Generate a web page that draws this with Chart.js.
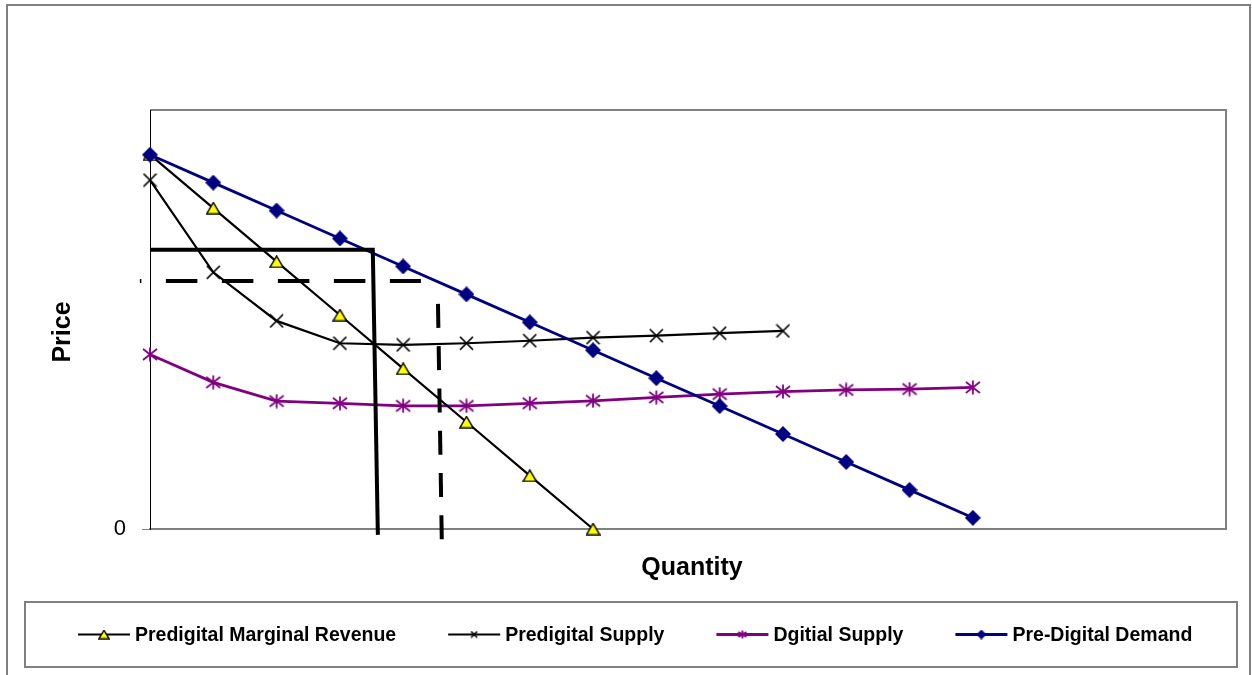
<!DOCTYPE html>
<html>
<head>
<meta charset="utf-8">
<script src="https://cdn.jsdelivr.net/npm/chart.js@4.4.1/dist/chart.umd.min.js"></script>
<style>
  html, body { margin: 0; padding: 0; background: #fff; }
  canvas { display: block; }
</style>
</head>
<body>
<canvas id="chart" width="1252" height="675"></canvas>
<script>
// values (price units, 0..15 on the axis)
const quantities = [0, 1, 2, 3, 4, 5, 6, 7, 8, 9, 10, 11, 12, 13];
const predigitalMarginalRevenue = [13.4, 11.49, 9.57, 7.66, 5.74, 3.83, 1.91, 0];
const predigitalSupply = [12.49, 9.19, 7.45, 6.65, 6.59, 6.65, 6.74, 6.85, 6.92, 7.01, 7.09];
const digitalSupply = [6.25, 5.25, 4.58, 4.5, 4.41, 4.41, 4.5, 4.59, 4.71, 4.83, 4.92, 4.98, 5.01, 5.07];
const predigitalDemand = [13.4, 12.4, 11.4, 10.4, 9.4, 8.4, 7.4, 6.4, 5.4, 4.4, 3.4, 2.4, 1.4, 0.4];
const seriesLabels = ['Predigital Marginal Revenue', 'Predigital Supply', 'Dgitial Supply', 'Pre-Digital Demand'];
const yTicks = [0];

// hand-drawn guide lines (price / quantity), in axis units
const predigitalPriceX = [0, 3.52, 3.6];
const predigitalPriceY = [10, 10, -0.21];
const digitalPriceX = [-0.16, 4.28];
const digitalPriceY = [8.88, 8.88];
const digitalQtyX = [4.55, 4.61];
const digitalQtyY = [8.06, -0.39];

const NAVY = '#000080';
const PURPLE = '#800080';
const FONT = "'Liberation Sans', Arial, sans-serif";

const toPoints = (xs, ys) => ys.map((y, i) => ({ x: xs[i], y: y }));

// marker images, drawn centred on the point by Chart.js
function marker(kind, w, h) {
    const c = document.createElement('canvas');
    c.width = w;
    c.height = h;
    const g = c.getContext('2d');
    g.lineCap = 'butt';
    if (kind === 'diamond') {
        g.fillStyle = NAVY;
        g.beginPath();
        g.moveTo(w / 2, 0);
        g.lineTo(w, h / 2);
        g.lineTo(w / 2, h);
        g.lineTo(0, h / 2);
        g.closePath();
        g.fill();
    } else if (kind === 'triangle') {
        g.fillStyle = '#ffff00';
        g.strokeStyle = '#000';
        g.lineWidth = 1.4;
        g.beginPath();
        g.moveTo(w / 2, 0.9);
        g.lineTo(w - 0.9, h - 0.9);
        g.lineTo(0.9, h - 0.9);
        g.closePath();
        g.fill();
        g.stroke();
    } else if (kind === 'cross') {
        g.strokeStyle = '#000';
        g.lineWidth = 1.7;
        g.beginPath();
        g.moveTo(1, 1); g.lineTo(w - 1, h - 1);
        g.moveTo(w - 1, 1); g.lineTo(1, h - 1);
        g.stroke();
    } else if (kind === 'asterisk') {
        g.strokeStyle = PURPLE;
        g.lineWidth = 1.8;
        g.beginPath();
        g.moveTo(w / 2, 0.5); g.lineTo(w / 2, h - 0.5);
        g.moveTo(1, 2); g.lineTo(w - 1, h - 2);
        g.moveTo(w - 1, 2); g.lineTo(1, h - 2);
        g.stroke();
    }
    return c;
}

const markers = {
    triangle: marker('triangle', 15, 13),
    cross: marker('cross', 15, 15),
    asterisk: marker('asterisk', 16, 15),
    diamond: marker('diamond', 16, 16)
};
const legendMarkers = {
    triangle: marker('triangle', 12, 10),
    cross: marker('cross', 8, 8),
    asterisk: marker('asterisk', 10, 9),
    diamond: marker('diamond', 10, 10)
};

function series(label, values, color, width, kind, order) {
    return {
        label: label,
        data: toPoints(quantities, values),
        borderColor: color,
        borderWidth: width,
        pointStyle: markers[kind],
        pointRadius: 7,
        tension: 0,
        clip: false,
        order: order,
        legendKind: kind
    };
}

function guide(xs, ys, dash, dashOffset) {
    return {
        data: toPoints(xs, ys),
        borderColor: '#000',
        borderWidth: 4,
        borderDash: dash,
        borderDashOffset: dashOffset,
        borderJoinStyle: 'miter',
        pointRadius: 0,
        tension: 0,
        clip: false,
        order: 0,
        isGuide: true
    };
}

const chartDecor = {
    id: 'chartDecor',
    beforeDraw(chart) {
        const ctx = chart.ctx;
        const a = chart.chartArea;
        ctx.save();
        ctx.fillStyle = '#fff';
        ctx.fillRect(0, 0, chart.width, chart.height);
        ctx.strokeStyle = '#808080';
        ctx.lineWidth = 2;
        // outer frame
        ctx.strokeRect(7, 5, 1243, 675);
        // plot frame, top and right
        ctx.beginPath();
        ctx.moveTo(a.left, a.top);
        ctx.lineTo(a.right, a.top);
        ctx.lineTo(a.right, a.bottom);
        ctx.stroke();
        // legend frame
        ctx.strokeRect(25, 602, 1212, 65);
        ctx.restore();
    },
    afterDraw(chart) {
        const ctx = chart.ctx;
        ctx.save();
        ctx.fillStyle = '#000';
        ctx.font = 'bold 25px ' + FONT;
        ctx.textAlign = 'center';
        ctx.textBaseline = 'alphabetic';
        ctx.fillText('Quantity', 692, 575);
        ctx.save();
        ctx.translate(70, 332);
        ctx.rotate(-Math.PI / 2);
        ctx.fillText('Price', 0, 0);
        ctx.restore();

        // legend: line sample with marker, then the label
        ctx.font = 'bold 19.5px ' + FONT;
        ctx.textAlign = 'left';
        const lineY = 634.5;
        let x = 78;
        chart.data.datasets.filter(d => !d.isGuide)
            .sort((p, q) => seriesLabels.indexOf(p.label) - seriesLabels.indexOf(q.label))
            .forEach(d => {
                ctx.strokeStyle = d.borderColor;
                ctx.lineWidth = d.borderWidth;
                ctx.beginPath();
                ctx.moveTo(x, lineY);
                ctx.lineTo(x + 52, lineY);
                ctx.stroke();
                const m = legendMarkers[d.legendKind];
                ctx.drawImage(m, x + 26 - m.width / 2, lineY - m.height / 2);
                ctx.fillStyle = '#000';
                ctx.fillText(d.label, x + 57, 641);
                x += 57 + ctx.measureText(d.label).width + 52;
            });
        ctx.restore();
    }
};

new Chart(document.getElementById('chart'), {
    type: 'line',
    data: {
        datasets: [
            guide(predigitalPriceX, predigitalPriceY, [], 0),
            guide(digitalPriceX, digitalPriceY, [31.5, 24.5], 30),
            guide(digitalQtyX, digitalQtyY, [24, 18.3], 0),
            series(seriesLabels[3], predigitalDemand, NAVY, 2.8, 'diamond', 1),
            series(seriesLabels[0], predigitalMarginalRevenue, '#000', 2.2, 'triangle', 2),
            series(seriesLabels[1], predigitalSupply, '#000', 2.2, 'cross', 3),
            series(seriesLabels[2], digitalSupply, PURPLE, 2.8, 'asterisk', 4)
        ]
    },
    options: {
        responsive: false,
        animation: false,
        devicePixelRatio: 1,
        events: [],
        layout: { padding: { left: 0, top: 110, right: 26, bottom: 146 } },
        plugins: {
            legend: { display: false },
            tooltip: { enabled: false },
            title: { display: false }
        },
        scales: {
            x: {
                type: 'linear',
                min: 0,
                max: 17,
                ticks: { display: false },
                grid: { display: false },
                border: { color: '#808080', width: 2 },
                afterFit: s => { s.height = 0; }
            },
            y: {
                min: 0,
                max: 15,
                afterBuildTicks: s => { s.ticks = yTicks.map(v => ({ value: v })); },
                afterFit: s => { s.width = 150; },
                grid: { drawOnChartArea: false, drawTicks: true, tickLength: 8, color: '#808080' },
                border: { color: '#000', width: 1 },
                ticks: { padding: 16, color: '#000', font: { family: FONT, size: 22 } }
            }
        }
    },
    plugins: [chartDecor]
});
</script>
</body>
</html>
